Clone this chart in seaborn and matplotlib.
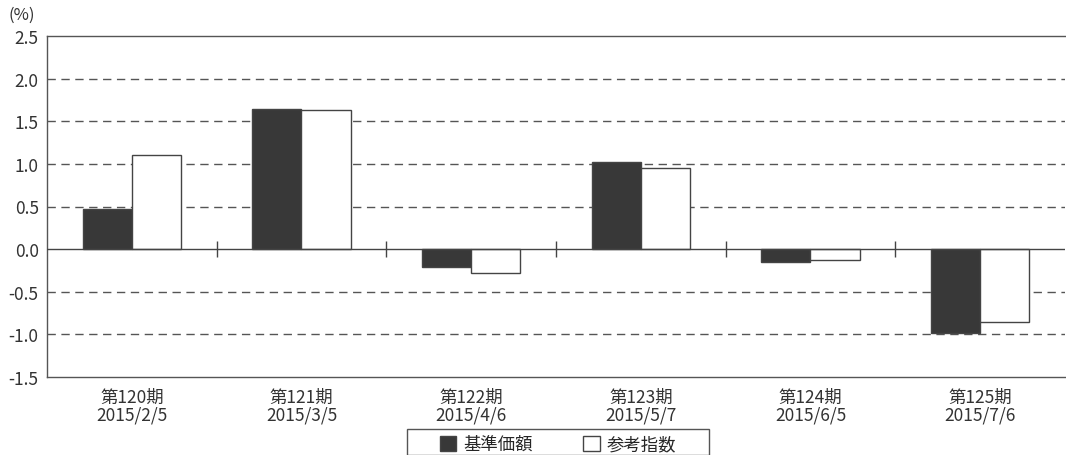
import pandas as pd
import seaborn as sns
import matplotlib.pyplot as plt
from matplotlib.patches import Rectangle

# 分配金再投資基準価額と参考指数の騰落率
periods = ['第120期\n2015/2/5', '第121期\n2015/3/5', '第122期\n2015/4/6',
           '第123期\n2015/5/7', '第124期\n2015/6/5', '第125期\n2015/7/6']
nav = [0.47, 1.64, -0.21, 1.02, -0.15, -0.98]
ref_index = [1.10, 1.63, -0.28, 0.95, -0.13, -0.85]
series_names = ['基準価額', '参考指数']
y_ticks = [-1.5, -1.0, -0.5, 0.0, 0.5, 1.0, 1.5, 2.0, 2.5]

df = pd.DataFrame({
    'period': periods * 2,
    'value': nav + ref_index,
    'series': [series_names[0]] * len(periods) + [series_names[1]] * len(periods),
})

sns.set_style('white')
plt.rcParams['font.family'] = ['Noto Sans CJK JP', 'DejaVu Sans']
plt.rcParams['axes.unicode_minus'] = False

W, H = 1066, 456
fig, ax = plt.subplots(figsize=(W / 100, H / 100), dpi=100)
fig.subplots_adjust(left=47 / W, right=0.999, top=1 - 37 / H, bottom=1 - 378 / H)

# 破線のグリッド（0は実線）
for y in y_ticks[1:-1]:
    if y == 0:
        continue
    ax.axhline(y, color='#555555', lw=1.0, ls=(0, (6, 4)), zorder=0)

sns.barplot(data=df, x='period', y='value', hue='series', order=periods,
            palette=['#383838', 'white'], edgecolor='#444444', linewidth=1.0,
            width=0.58, ax=ax, zorder=2, legend=True)

ax.axhline(0, color='#444444', lw=1.0, zorder=3)
# 期の区切りの短い縦線
ax.vlines([i + 0.5 for i in range(len(periods) - 1)], -0.09, 0.09,
          color='#444444', lw=1.0, zorder=3)

ax.set_xlim(-0.5, len(periods) - 0.5)
ax.set_ylim(-1.5, 2.5)
ax.set_yticks(y_ticks)
ax.set_yticklabels([f'{v:.1f}' for v in y_ticks])
ax.tick_params(axis='both', labelsize=12.5, colors='#333333', length=0, pad=6)
ax.tick_params(axis='x', pad=8)
for t in ax.get_xticklabels():
    t.set_linespacing(0.98)
ax.set_xlabel('')
ax.set_ylabel('')

for side in ['left', 'top', 'bottom']:
    ax.spines[side].set_color('#555555')
    ax.spines[side].set_linewidth(1.0)
ax.spines['right'].set_visible(False)

fig.text(8 / W, 1 - 15 / H, '(%)', fontsize=12, color='#333333', va='center')

# 凡例（枠は別に描く）
handles, labels = ax.get_legend_handles_labels()
ax.legend(handles, labels, loc='center', bbox_to_anchor=(558 / W, 1 - 445 / H),
          bbox_transform=fig.transFigure, ncol=2, frameon=False,
          fontsize=12.5, handlelength=0.95, handleheight=0.95,
          columnspacing=2.9, borderpad=0, handletextpad=0.4, borderaxespad=0)
fig.patches.append(Rectangle((407 / W, 0), 302 / W, 26 / H, transform=fig.transFigure,
                             fill=False, edgecolor='#555555', lw=1.0))

fig.savefig('out.png', dpi=100)
